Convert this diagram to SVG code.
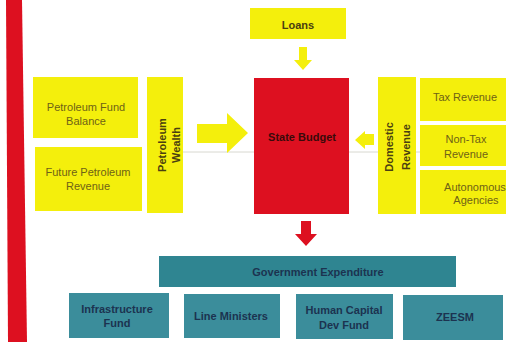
<svg xmlns="http://www.w3.org/2000/svg" width="506" height="342" viewBox="0 0 506 342">
<style>
.y{fill:#f4ef0c}
.t{fill:#3b8d9b}
.ty{font-family:"Liberation Sans",Arial,sans-serif;font-size:11px;fill:#6e6216;text-anchor:middle}
.tb{font-family:"Liberation Sans",Arial,sans-serif;font-size:11px;font-weight:bold;fill:#4a4010;text-anchor:middle}
.tt{font-family:"Liberation Sans",Arial,sans-serif;font-size:11px;font-weight:bold;fill:#1c3350;text-anchor:middle}
</style>
<rect width="506" height="342" fill="#ffffff"/>
<polygon points="6,0 22,0 27,342 8,342" fill="#dd1020"/>
<g id="connectors">
<line x1="180" y1="152" x2="420" y2="152" stroke="#d8d8d0" stroke-width="1"/>
<polygon points="299,47 307,47 307,60 312,60 303,70 294,60 299,60" fill="#f4ef0c"/>
<polygon points="197,124 227,124 227,113 248,133 227,153 227,143 197,143" fill="#f4ef0c"/>
<polygon points="374,134 365,134 365,131 355,140 365,149 365,145 374,145" fill="#f4ef0c"/>
<polygon points="301,221 311,221 311,234 317,234 306,246 295,234 301,234" fill="#dd1020"/>
</g>
<g id="loans"><rect class="y" x="250" y="8" width="96" height="31"/><text class="tb" x="298" y="29">Loans</text></g>
<g id="state-budget"><rect x="254" y="78" width="95" height="136" fill="#dd1020"/><text class="tb" x="302" y="141" style="fill:#3a0a0a">State Budget</text></g>
<g id="petroleum-fund-balance"><rect class="y" x="33" y="77" width="105" height="61"/><text class="ty" x="86" y="111">Petroleum Fund</text><text class="ty" x="86" y="125">Balance</text></g>
<g id="future-petroleum-revenue"><rect class="y" x="35" y="147" width="107" height="64"/><text class="ty" x="88" y="176">Future Petroleum</text><text class="ty" x="88" y="190">Revenue</text></g>
<g id="petroleum-wealth"><rect class="y" x="147" y="77" width="36" height="136"/><text class="tb" transform="translate(165,145) rotate(-90)" x="0" y="1">Petroleum</text><text class="tb" transform="translate(165,145) rotate(-90)" x="0" y="15">Wealth</text></g>
<g id="domestic-revenue"><rect class="y" x="378" y="77" width="38" height="137"/><text class="tb" transform="translate(397,147) rotate(-90)" x="0" y="-4">Domestic</text><text class="tb" transform="translate(397,147) rotate(-90)" x="0" y="13">Revenue</text></g>
<g id="tax-revenue"><rect class="y" x="420" y="78" width="90" height="43"/><text class="ty" x="465" y="101">Tax Revenue</text></g>
<g id="non-tax-revenue"><rect class="y" x="420" y="125" width="90" height="41"/><text class="ty" x="466" y="143">Non-Tax</text><text class="ty" x="466" y="158">Revenue</text></g>
<g id="autonomous-agencies"><rect class="y" x="420" y="170" width="90" height="44"/><text class="ty" x="475" y="191">Autonomous</text><text class="ty" x="476" y="204">Agencies</text></g>
<g id="government-expenditure"><rect x="159" y="256" width="297" height="31" fill="#2f8591"/><text class="tt" x="318" y="276">Government Expenditure</text></g>
<g id="infrastructure-fund"><rect class="t" x="69" y="293" width="100" height="45"/><text class="tt" x="117" y="313">Infrastructure</text><text class="tt" x="117" y="327">Fund</text></g>
<g id="line-ministers"><rect class="t" x="184" y="294" width="96" height="44"/><text class="tt" x="231" y="320">Line Ministers</text></g>
<g id="human-capital-dev-fund"><rect class="t" x="296" y="294" width="97" height="45"/><text class="tt" x="344" y="314">Human Capital</text><text class="tt" x="344" y="329">Dev Fund</text></g>
<g id="zeesm"><rect class="t" x="403" y="295" width="100" height="45"/><text class="tt" x="455" y="321">ZEESM</text></g>
</svg>
